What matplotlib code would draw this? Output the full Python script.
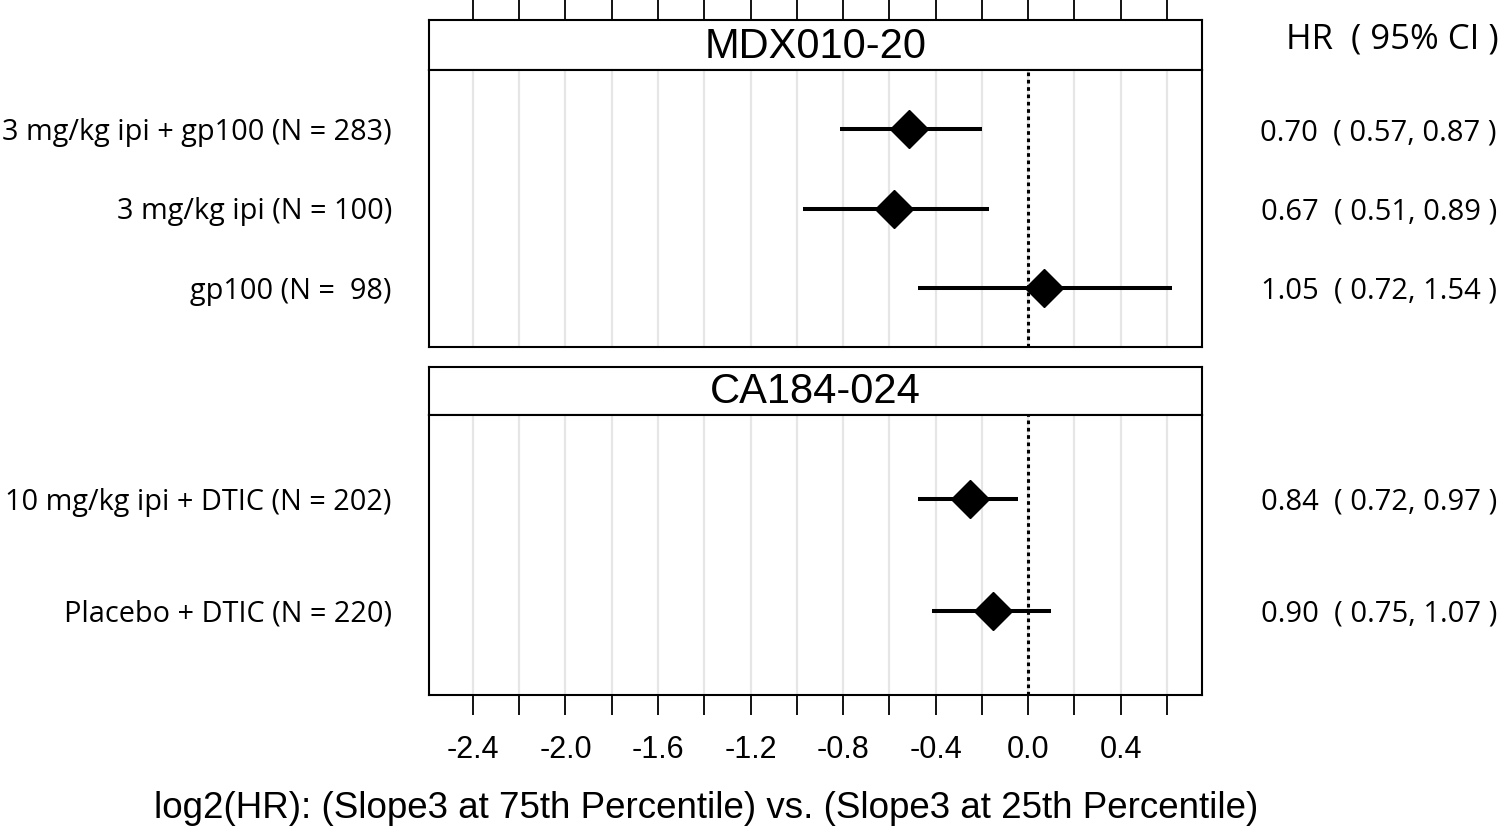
import numpy as np
import matplotlib
matplotlib.use("Agg")
import matplotlib.pyplot as plt
from matplotlib.transforms import blended_transform_factory

# ---- data ----
studies = ["MDX010-20", "CA184-024"]
arm_labels = [
    ["3 mg/kg ipi + gp100 (N = 283)", "3 mg/kg ipi (N = 100)", "gp100 (N =  98)"],
    ["10 mg/kg ipi + DTIC (N = 202)", "Placebo + DTIC (N = 220)"],
]
hr = [[0.70, 0.67, 1.05], [0.84, 0.90]]
hr_lo = [[0.57, 0.51, 0.72], [0.72, 0.75]]
hr_hi = [[0.87, 0.89, 1.54], [0.97, 1.07]]
xticks_major = [-2.4, -2.0, -1.6, -1.2, -0.8, -0.4, 0.0, 0.4]
xticks_all = [-2.4, -2.2, -2.0, -1.8, -1.6, -1.4, -1.2, -1.0, -0.8, -0.6,
              -0.4, -0.2, 0.0, 0.2, 0.4, 0.6]
xlabel = "log2(HR): (Slope3 at 75th Percentile) vs. (Slope3 at 25th Percentile)"
hr_header = "HR  ( 95% CI )"

W, H = 1500, 831
fig = plt.figure(figsize=(W / 100, H / 100), dpi=100)

NARROW = ["Liberation Sans", "DejaVu Sans"]
LABF = ["Open Sans", "DejaVu Sans"]

def box(x0, y0, x1, y1):
    return [x0 / W, 1 - y1 / H, (x1 - x0) / W, (y1 - y0) / H]

xlim = (-2.59, 0.752)
panels = [(20, 70, 347), (367, 415, 695)]

for i, (st, ptop, pbot) in enumerate(panels):
    n = len(hr[i])
    # strip
    sax = fig.add_axes(box(429, st, 1202, ptop))
    sax.set_xlim(xlim)
    sax.set_ylim(0, 1)
    sax.set_yticks([])
    for s in sax.spines.values():
        s.set_linewidth(1.5)
    sax.text(0.5, 0.47, studies[i], transform=sax.transAxes, ha="center",
             va="center", fontsize=30, family=NARROW)
    if i == 0:
        sax.xaxis.set_ticks_position("top")
        sax.set_xticks(xticks_all)
        sax.tick_params(axis="x", direction="out", length=14.5, width=1.3,
                        labeltop=False, labelbottom=False)
    else:
        sax.set_xticks([])

    ax = fig.add_axes(box(429, ptop, 1202, pbot))
    ax.set_xlim(xlim)
    ax.set_ylim(n + 0.75, 0.25)
    ax.set_yticks([])
    for s in ax.spines.values():
        s.set_linewidth(1.5)
    for xv in xticks_all:
        ax.axvline(xv, color="#e6e6e6", lw=1.6, zorder=0)
    ax.axvline(0.0, color="black", lw=2.2, ls=(0, (1.2, 1.2)), zorder=1)
    ys = np.arange(1, n + 1)
    est = np.log2(hr[i])
    lo = np.log2(hr_lo[i])
    hi = np.log2(hr_hi[i])
    ax.hlines(ys, lo, hi, color="black", lw=2.9, zorder=2)
    ax.plot(est, ys, "D", color="black", ms=19, zorder=3)

    if i == 1:
        ax.set_xticks(xticks_all)
        ax.set_xticklabels([f"{v:.1f}" if any(abs(v - m) < 1e-9 for m in xticks_major) else ""
                            for v in xticks_all])
        ax.tick_params(axis="x", direction="out", length=14.5, width=1.3,
                       pad=14, labelsize=22)
        for t in ax.get_xticklabels():
            t.set_family(NARROW)
    else:
        ax.set_xticks([])

    tr = blended_transform_factory(fig.transFigure, ax.transData)
    for y, lab, h, l, u in zip(ys, arm_labels[i], hr[i], hr_lo[i], hr_hi[i]):
        ax.text(392 / W, y, lab, transform=tr, ha="right", va="center_baseline",
                fontsize=20.8, family=LABF)
        ax.text(1497 / W, y, f"{h:.2f}  ( {l:.2f}, {u:.2f} )", transform=tr,
                ha="right", va="center_baseline", fontsize=21, family=LABF)

fig.text(1499 / W, 1 - 40 / H, hr_header, ha="right", va="center",
         fontsize=25, family=LABF)
fig.text(706 / W, 1 - 808 / H, xlabel, ha="center", va="center",
         fontsize=26.5, family=NARROW)

fig.savefig("out.png", dpi=100)
